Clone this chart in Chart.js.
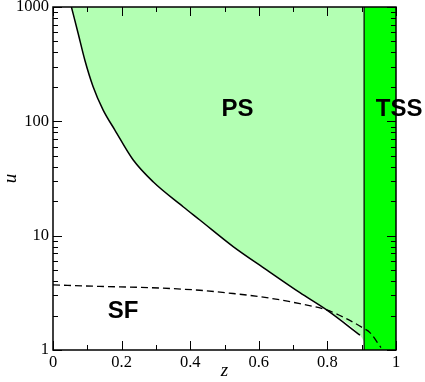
<!DOCTYPE html>
<html>
<head>
<meta charset="utf-8">
<script src="https://cdn.jsdelivr.net/npm/chart.js@4/dist/chart.umd.min.js"></script>
<style>
    html, body { margin: 0; padding: 0; background: #fff; }
    #wrap { width: 425px; height: 382px; position: relative; }
</style>
</head>
<body>
<div id="wrap"><canvas id="phase-chart"></canvas></div>
<script>
// PS / SF 경계 (실선)
const psLineZ = [0.0537, 0.073, 0.0925, 0.1167, 0.1459, 0.180, 0.2334, 0.2918, 0.3793, 0.4281, 0.5252, 0.6227, 0.7199, 0.7978, 0.8949];
const psLineU = [1000, 592, 346, 202, 126, 84.3, 46.1, 29.6, 17.9, 13.7, 8.02, 5.02, 3.17, 2.24, 1.35];

// PS 영역 채움의 마지막 꼭짓점 (TSS 경계에 닿는 곳)
const psFillEndZ = [0.907];
const psFillEndU = [1.18];

// 점선
const dashZ = [0, 0.136, 0.282, 0.428, 0.525, 0.623, 0.720, 0.798, 0.851, 0.905, 0.924, 0.956];
const dashU = [3.71, 3.60, 3.51, 3.33, 3.12, 2.87, 2.54, 2.24, 1.91, 1.55, 1.42, 1.05];

// TSS 띠
const tssZ = [0.907, 1];
const tssU = [1000, 1000];
const tssEdgeZ = [0.907, 0.907];
const tssEdgeU = [1, 1000];

// 축 눈금
const xMajorTicks = [0, 0.2, 0.4, 0.6, 0.8, 1];
const xMinorTicks = [0.1, 0.3, 0.5, 0.7, 0.9];
const yMajorTicks = [1, 10, 100, 1000];
const yMinorTicks = [2, 3, 4, 5, 6, 7, 8, 9, 20, 30, 40, 50, 60, 70, 80, 90, 200, 300, 400, 500, 600, 700, 800, 900];

// 영역 이름
const regionNames = ['PS', 'TSS', 'SF'];
const regionZ = [0.538, 1.009, 0.204];
const regionU = [128, 128, 2.19];

const toPoints = (xs, ys) => xs.map((x, i) => ({ x, y: ys[i] }));

const serif = '"Liberation Serif", "Times New Roman", serif';
Chart.defaults.font.family = serif;

// 눈금과 테두리 (안쪽으로)
const frameTicks = {
    id: 'frameTicks',
    afterDatasetsDraw(chart) {
        const { ctx, chartArea: a, scales } = chart;
        const xs = scales.x, ys = scales.y;
        ctx.save();
        ctx.strokeStyle = '#000';
        ctx.lineWidth = 1;
        ctx.beginPath();
        const xtick = (list, len) => {
            list.forEach(v => {
                const px = Math.round(xs.getPixelForValue(v)) + 0.5;
                ctx.moveTo(px, a.bottom); ctx.lineTo(px, a.bottom - len);
                ctx.moveTo(px, a.top); ctx.lineTo(px, a.top + len);
            });
        };
        const ytick = (list, len) => {
            list.forEach(v => {
                const py = Math.round(ys.getPixelForValue(v)) + 0.5;
                ctx.moveTo(a.left, py); ctx.lineTo(a.left + len, py);
                ctx.moveTo(a.right, py); ctx.lineTo(a.right - len, py);
            });
        };
        xtick(xMajorTicks, 9);
        xtick(xMinorTicks, 5);
        ytick(yMajorTicks, 9);
        ytick(yMinorTicks, 5);
        ctx.stroke();
        ctx.lineWidth = 1.5;
        ctx.strokeRect(a.left, a.top, a.right - a.left, a.bottom - a.top);
        ctx.restore();
    },
    afterDraw(chart) {
        const { ctx, scales } = chart;
        ctx.save();
        ctx.fillStyle = '#000';
        ctx.font = 'bold 24px "Liberation Sans", Arial, sans-serif';
        ctx.textAlign = 'center';
        ctx.textBaseline = 'middle';
        regionNames.forEach((name, i) => {
            ctx.fillText(name, scales.x.getPixelForValue(regionZ[i]), scales.y.getPixelForValue(regionU[i]));
        });
        ctx.restore();
    }
};

const tickFont = { family: serif, size: 16.5 };
const titleFont = { family: serif, size: 19, style: 'italic' };

new Chart(document.getElementById('phase-chart').getContext('2d'), {
    type: 'line',
    data: {
        datasets: [
            {
                // TSS 띠
                data: toPoints(tssZ, tssU),
                borderWidth: 0,
                backgroundColor: '#00ff00',
                fill: 'start',
                pointRadius: 0,
                order: 5,
            },
            {
                // PS 영역
                data: toPoints(psLineZ.concat(psFillEndZ), psLineU.concat(psFillEndU)),
                borderWidth: 0,
                backgroundColor: '#b3ffb3',
                fill: 'end',
                pointRadius: 0,
                cubicInterpolationMode: 'monotone',
                order: 4,
            },
            {
                data: toPoints(tssEdgeZ, tssEdgeU),
                borderColor: '#000',
                borderWidth: 1.2,
                fill: false,
                pointRadius: 0,
                order: 3,
            },
            {
                data: toPoints(dashZ, dashU),
                borderColor: '#000',
                borderWidth: 1.3,
                borderDash: [7, 4],
                fill: false,
                pointRadius: 0,
                cubicInterpolationMode: 'monotone',
                order: 2,
            },
            {
                data: toPoints(psLineZ, psLineU),
                borderColor: '#000',
                borderWidth: 1.5,
                fill: false,
                pointRadius: 0,
                cubicInterpolationMode: 'monotone',
                order: 1,
            },
        ]
    },
    options: {
        responsive: true,
        maintainAspectRatio: false,
        animation: false,
        events: [],
        layout: {
            autoPadding: false,
            padding: { top: 7, right: 29, left: 0, bottom: 0 }
        },
        plugins: {
            legend: { display: false },
            tooltip: { enabled: false },
        },
        scales: {
            x: {
                type: 'linear',
                min: 0,
                max: 1,
                grid: { display: false, drawTicks: false },
                border: { display: false },
                afterBuildTicks(scale) {
                    scale.ticks = xMajorTicks.map(v => ({ value: v }));
                },
                afterFit(scale) {
                    scale.height = 32;
                    scale.paddingLeft = 0;
                    scale.paddingRight = 0;
                },
                ticks: {
                    color: '#000',
                    font: tickFont,
                    padding: 3,
                    maxRotation: 0,
                    callback: v => String(v),
                },
                title: {
                    display: true,
                    text: 'z',
                    color: '#000',
                    font: titleFont,
                    padding: { top: 0, bottom: 0 },
                },
            },
            y: {
                type: 'logarithmic',
                min: 1,
                max: 1000,
                grid: { display: false, drawTicks: false },
                border: { display: false },
                afterBuildTicks(scale) {
                    scale.ticks = yMajorTicks.map(v => ({ value: v }));
                },
                afterFit(scale) {
                    scale.width = 53;
                    scale.paddingTop = 0;
                    scale.paddingBottom = 0;
                },
                ticks: {
                    color: '#000',
                    font: tickFont,
                    padding: 4,
                    callback: v => String(v),
                },
                title: {
                    display: true,
                    text: 'u',
                    color: '#000',
                    font: titleFont,
                    padding: { top: 0, bottom: 0 },
                },
            },
        }
    },
    plugins: [frameTicks]
});
</script>
</body>
</html>
